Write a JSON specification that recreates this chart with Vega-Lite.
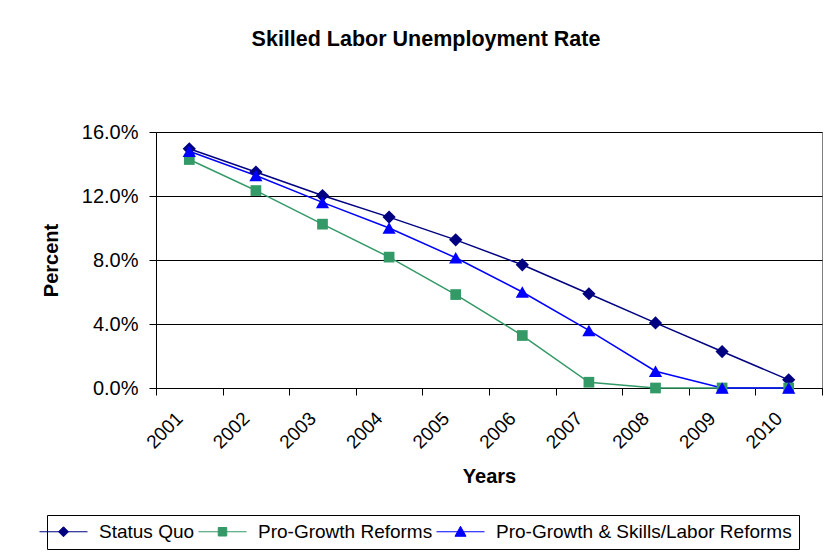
{
  "$schema": "https://vega.github.io/schema/vega-lite/v6.json",
  "width": 666,
  "height": 256,
  "autosize": {"type": "none"},
  "padding": {"left": 156, "top": 132, "right": 15, "bottom": 171},
  "background": "white",
  "config": {
    "font": "Liberation Sans",
    "view": {"stroke": "#808080", "strokeWidth": 1}
  },
  "title": {
    "text": "Skilled Labor Unemployment Rate",
    "font": "Liberation Sans",
    "fontSize": 21.5,
    "fontWeight": "bold",
    "color": "black",
    "anchor": "middle",
    "frame": "group",
    "dx": -63,
    "offset": 72
  },
  "data": {
    "values": [
      {"year": 2001, "series": "Status Quo", "value": 0.1495},
      {"year": 2002, "series": "Status Quo", "value": 0.1350},
      {"year": 2003, "series": "Status Quo", "value": 0.1203},
      {"year": 2004, "series": "Status Quo", "value": 0.1068},
      {"year": 2005, "series": "Status Quo", "value": 0.0926},
      {"year": 2006, "series": "Status Quo", "value": 0.0770},
      {"year": 2007, "series": "Status Quo", "value": 0.0589},
      {"year": 2008, "series": "Status Quo", "value": 0.0407},
      {"year": 2009, "series": "Status Quo", "value": 0.0228},
      {"year": 2010, "series": "Status Quo", "value": 0.0051},
      {"year": 2001, "series": "Pro-Growth Reforms", "value": 0.1428},
      {"year": 2002, "series": "Pro-Growth Reforms", "value": 0.1234},
      {"year": 2003, "series": "Pro-Growth Reforms", "value": 0.1024},
      {"year": 2004, "series": "Pro-Growth Reforms", "value": 0.0818},
      {"year": 2005, "series": "Pro-Growth Reforms", "value": 0.0584},
      {"year": 2006, "series": "Pro-Growth Reforms", "value": 0.0328},
      {"year": 2007, "series": "Pro-Growth Reforms", "value": 0.0036},
      {"year": 2008, "series": "Pro-Growth Reforms", "value": 0.0},
      {"year": 2009, "series": "Pro-Growth Reforms", "value": 0.0},
      {"year": 2010, "series": "Pro-Growth Reforms", "value": 0.0},
      {"year": 2001, "series": "Pro-Growth & Skills/Labor Reforms", "value": 0.1480},
      {"year": 2002, "series": "Pro-Growth & Skills/Labor Reforms", "value": 0.1328},
      {"year": 2003, "series": "Pro-Growth & Skills/Labor Reforms", "value": 0.1160},
      {"year": 2004, "series": "Pro-Growth & Skills/Labor Reforms", "value": 0.1000},
      {"year": 2005, "series": "Pro-Growth & Skills/Labor Reforms", "value": 0.0814},
      {"year": 2006, "series": "Pro-Growth & Skills/Labor Reforms", "value": 0.0600},
      {"year": 2007, "series": "Pro-Growth & Skills/Labor Reforms", "value": 0.0360},
      {"year": 2008, "series": "Pro-Growth & Skills/Labor Reforms", "value": 0.0105},
      {"year": 2009, "series": "Pro-Growth & Skills/Labor Reforms", "value": 0.0},
      {"year": 2010, "series": "Pro-Growth & Skills/Labor Reforms", "value": 0.0}
    ]
  },
  "encoding": {
    "x": {
      "field": "year",
      "type": "quantitative",
      "title": "Years",
      "scale": {"domain": [2000.5, 2010.5], "nice": false, "zero": false},
      "axis": {
        "values": [2000.5, 2001, 2001.5, 2002, 2002.5, 2003, 2003.5, 2004, 2004.5, 2005, 2005.5, 2006, 2006.5, 2007, 2007.5, 2008, 2008.5, 2009, 2009.5, 2010, 2010.5],
        "labelExpr": "datum.value % 1 === 0 ? format(datum.value, 'd') : ''",
        "tickOpacity": {"condition": {"test": "datum.value % 1 === 0", "value": 0}, "value": 1},
        "grid": false,
        "domainColor": "black",
        "tickColor": "black",
        "tickSize": 7,
        "labelAngle": -45,
        "labelAlign": "right",
        "labelBaseline": "middle",
        "labelFontSize": 19,
        "labelColor": "black",
        "labelPadding": 20,
        "labelOffset": -10,
        "labelOverlap": false,
        "labelFlush": false,
        "labelBound": false,
        "titleFontSize": 20,
        "titleFontWeight": "bold",
        "titleColor": "black",
        "titlePadding": 15
      }
    },
    "y": {
      "field": "value",
      "type": "quantitative",
      "title": "Percent",
      "scale": {"domain": [0, 0.16], "nice": false, "zero": true},
      "axis": {
        "values": [0, 0.04, 0.08, 0.12, 0.16],
        "format": ".1%",
        "grid": true,
        "gridColor": "black",
        "gridWidth": 1,
        "gridOpacity": 1,
        "domainColor": "black",
        "tickColor": "black",
        "tickSize": 7,
        "labelFontSize": 20,
        "labelColor": "black",
        "labelPadding": 11,
        "titleFontSize": 20,
        "titleFontWeight": "bold",
        "titleColor": "black",
        "titlePadding": 20
      }
    }
  },
  "layer": [
    {
      "transform": [{"filter": "datum.series === 'Status Quo'"}],
      "mark": {"type": "line", "strokeWidth": 1.5, "color": "#000080"},
      "encoding": {}
    },
    {
      "transform": [{"filter": "datum.series === 'Pro-Growth Reforms'"}],
      "mark": {"type": "line", "strokeWidth": 1.5, "color": "#339966"},
      "encoding": {}
    },
    {
      "transform": [{"filter": "datum.series === 'Pro-Growth & Skills/Labor Reforms'"}],
      "mark": {"type": "line", "strokeWidth": 1.5, "color": "#0000FF"},
      "encoding": {}
    },
    {
      "transform": [{"filter": "datum.series === 'Status Quo'"}],
      "mark": {"type": "point", "shape": "diamond", "filled": true, "size": 175, "color": "#000080", "opacity": 1}
    },
    {
      "transform": [{"filter": "datum.series === 'Pro-Growth Reforms'"}],
      "mark": {"type": "point", "shape": "square", "filled": true, "size": 115, "color": "#339966", "opacity": 1}
    },
    {
      "transform": [{"filter": "datum.series === 'Pro-Growth & Skills/Labor Reforms'"}],
      "mark": {"type": "point", "shape": "triangle-up", "filled": true, "size": 175, "color": "#0000FF", "opacity": 1}
    },
    {
      "mark": {"type": "point", "filled": true, "opacity": 0},
      "encoding": {
        "shape": {
          "field": "series",
          "type": "nominal",
          "title": null,
          "scale": {"domain": ["Status Quo", "Pro-Growth Reforms", "Pro-Growth & Skills/Labor Reforms"], "range": ["M-4.8,0H4.8M0,-1L1,0L0,1L-1,0Z", "M-4.8,0H4.8M-0.85,-0.85H0.85V0.85H-0.85Z", "M-4.8,0H4.8M0,-1.1L1.1,0.9H-1.1Z"]},
          "legend": {
            "orient": "none",
            "legendX": -109,
            "legendY": 383,
            "direction": "horizontal",
            "strokeColor": "black",
            "fillColor": "white",
            "padding": 7,
            "labelFont": "Liberation Sans",
            "labelFontSize": 19,
            "labelColor": "black",
            "labelLimit": 0,
            "symbolSize": 100,
            "symbolStrokeWidth": 1,
            "symbolOpacity": 1,
            "labelOffset": 26,
            "columnPadding": 1
          }
        },
        "fill": {
          "field": "series",
          "type": "nominal",
          "title": null,
          "scale": {"domain": ["Status Quo", "Pro-Growth Reforms", "Pro-Growth & Skills/Labor Reforms"], "range": ["#000080", "#339966", "#0000FF"]}
        },
        "stroke": {
          "field": "series",
          "type": "nominal",
          "title": null,
          "scale": {"domain": ["Status Quo", "Pro-Growth Reforms", "Pro-Growth & Skills/Labor Reforms"], "range": ["#000080", "#339966", "#0000FF"]}
        }
      }
    }
  ]
}
